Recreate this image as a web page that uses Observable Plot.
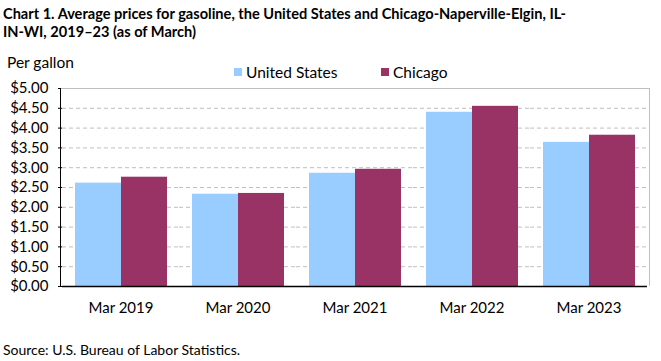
<!DOCTYPE html>
<html>
<head>
<meta charset="utf-8">
<script src="https://cdn.jsdelivr.net/npm/d3@7"></script>
<script src="https://cdn.jsdelivr.net/npm/@observablehq/plot@0.6"></script>
<style>
  body { margin: 0; background: #fff; font-family: Lato, sans-serif; color: #000; }
  #wrap { position: relative; width: 661px; height: 361px; overflow: hidden; background: #fff; }
  #title { position: absolute; left: 3px; top: 5px; font-weight: bold; line-height: 18px; white-space: nowrap; color: #000; }
  #unit { position: absolute; left: 7px; top: 52px; font-size: 15.5px; line-height: 20px; }
  .leg { position: absolute; top: 62px; font-size: 15.5px; line-height: 20px; display: flex; align-items: center; white-space: nowrap; }
  .sw { width: 8px; height: 8px; margin-right: 4px; }
  #source { position: absolute; left: 3px; top: 340px; font-size: 14px; line-height: 20px; white-space: nowrap; }
  #chart { position: absolute; left: 0; top: 48px; }
</style>
</head>
<body>
<div id="wrap">
  <div id="title"></div>
  <div id="unit"></div>
  <div id="legend"></div>
  <div id="chart"></div>
  <div id="source"></div>
</div>
<script>
// ---- data ----
const titleLines = ["Chart 1. Average prices for gasoline, the United States and Chicago-Naperville-Elgin, IL-", "IN-WI, 2019\u201323 (as of March)"];
const unitLabel = "Per gallon";
const sourceText = "Source: U.S. Bureau of Labor Statistics.";
const years = ["Mar 2019", "Mar 2020", "Mar 2021", "Mar 2022", "Mar 2023"];
const seriesNames = ["United States", "Chicago"];
const seriesColors = ["#99ccff", "#993366"];
const usPrices = [2.61, 2.33, 2.86, 4.40, 3.64];
const chicagoPrices = [2.76, 2.35, 2.96, 4.55, 3.82];
const yDomain = [0, 5];

// ---- table ----
const data = years.flatMap((yr, i) => [
  {year: yr, series: seriesNames[0], price: usPrices[i]},
  {year: yr, series: seriesNames[1], price: chicagoPrices[i]}
]);

// ---- title (fit to width) ----
const ctx = document.createElement("canvas").getContext("2d");
ctx.font = "bold 100px Lato";
const tw = ctx.measureText(titleLines[0]).width;
const titleSize = Math.min(20, 100 * 564 / tw);
const titleEl = document.getElementById("title");
titleEl.style.fontSize = titleSize + "px";
titleEl.innerHTML = "";
titleLines.forEach((t, i) => {
  if (i) titleEl.appendChild(document.createElement("br"));
  titleEl.appendChild(document.createTextNode(t));
});

document.getElementById("unit").textContent = unitLabel;
document.getElementById("source").textContent = sourceText;

// ---- legend ----
const legendLefts = [234, 381];
const legend = document.getElementById("legend");
seriesNames.forEach((name, i) => {
  const item = document.createElement("div");
  item.className = "leg";
  item.style.left = legendLefts[i] + "px";
  const sw = document.createElement("span");
  sw.className = "sw";
  sw.style.background = seriesColors[i];
  item.appendChild(sw);
  item.appendChild(document.createTextNode(name));
  legend.appendChild(item);
});

// ---- chart ----
const yTicksCount = 10;
const gridValues = d3.ticks(yDomain[0], yDomain[1], yTicksCount).filter(d => d > yDomain[0] && d < yDomain[1]);

const chart = Plot.plot({
  width: 661,
  height: 272,
  marginTop: 40,
  marginBottom: 34,
  marginLeft: 60,
  marginRight: 12,
  style: {fontFamily: "Lato, sans-serif", fontSize: "15px", color: "#000", background: "transparent", overflow: "visible"},
  fx: {domain: years, padding: 0, label: null, axis: "bottom", tickSize: 0, tickPadding: 16},
  x: {domain: seriesNames, paddingInner: 0, paddingOuter: 0.25, axis: null},
  y: {domain: yDomain, ticks: yTicksCount, tickFormat: d => "$" + d.toFixed(2), label: null, tickSize: 4, tickPadding: 10},
  color: {domain: seriesNames, range: seriesColors},
  marks: [
    Plot.ruleY(gridValues, {stroke: "#bfbfbf", strokeWidth: 1, strokeDasharray: "4,3"}),
    Plot.barY(data, {fx: "year", x: "series", y: "price", fill: "series"}),
    Plot.ruleY([0], {stroke: "#000", strokeWidth: 1.5})
  ]
});

// axis lines / plot border through the scales
const fxS = chart.scale("fx");
const yS = chart.scale("y");
const xLeft = fxS.range[0], xRight = fxS.range[1];
const yTop = yS.apply(yDomain[1]), yBot = yS.apply(yDomain[0]);
const svg = d3.select(chart);
const g = svg.append("g").attr("shape-rendering", "crispEdges");
g.append("line").attr("x1", xLeft).attr("x2", xRight).attr("y1", yTop).attr("y2", yTop).attr("stroke", "#bfbfbf");
g.append("line").attr("x1", xRight).attr("x2", xRight).attr("y1", yTop).attr("y2", yBot).attr("stroke", "#bfbfbf");
g.append("line").attr("x1", xLeft).attr("x2", xLeft).attr("y1", yTop).attr("y2", yBot + 1).attr("stroke", "#000");

document.getElementById("chart").appendChild(chart);
</script>
</body>
</html>
